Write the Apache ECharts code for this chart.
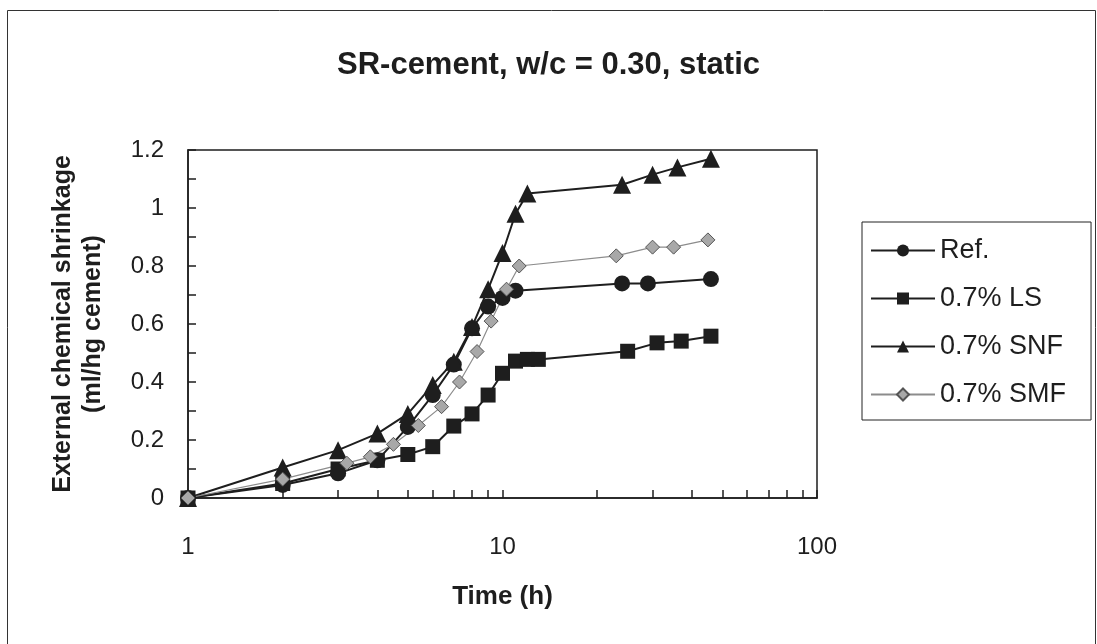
<!DOCTYPE html>
<html><head><meta charset="utf-8">
<script src="https://cdn.jsdelivr.net/npm/echarts@6/dist/echarts.min.js"></script>
<style>html,body{margin:0;padding:0;background:#fff}#c{width:1097px;height:644px}</style>
</head><body><div id="c"></div>
<script>
// ---- data (time in hours, shrinkage in ml/hg cement) ----
const refTime = [1, 2, 3, 4, 5, 6, 7, 8, 9, 10, 11, 24, 29, 46];
const refVal  = [0, 0.045, 0.085, 0.13, 0.245, 0.355, 0.46, 0.585, 0.66, 0.69, 0.715, 0.74, 0.74, 0.755];

const lsTime = [1, 2, 3, 4, 5, 6, 7, 8, 9, 10, 11, 12, 13, 25, 31, 37, 46];
const lsVal  = [0, 0.05, 0.10, 0.13, 0.15, 0.177, 0.248, 0.29, 0.355, 0.43, 0.472, 0.478, 0.478, 0.506, 0.535, 0.541, 0.558];

const snfTime = [1, 2, 3, 4, 5, 6, 7, 8, 9, 10, 11, 12, 24, 30, 36, 46];
const snfVal  = [0, 0.105, 0.165, 0.222, 0.29, 0.39, 0.47, 0.59, 0.72, 0.845, 0.98, 1.05, 1.08, 1.115, 1.14, 1.17];

const smfTime = [1, 2, 3.2, 3.8, 4.5, 5.4, 6.4, 7.3, 8.3, 9.2, 10.3, 11.3, 23, 30, 35, 45];
const smfVal  = [0, 0.065, 0.12, 0.142, 0.185, 0.25, 0.315, 0.40, 0.505, 0.61, 0.72, 0.80, 0.835, 0.865, 0.865, 0.89];

const seriesNames = ['Ref.', '0.7% LS', '0.7% SNF', '0.7% SMF'];
const xTickValues = [1, 2, 3, 4, 5, 6, 7, 8, 9, 10, 20, 30, 40, 50, 60, 70, 80, 90, 100];
const xLabelValues = [1, 10, 100];

const pairs = (t, v) => t.map((x, i) => [x, v[i]]);
const FONT = '"Liberation Sans", Arial, sans-serif';
const INK = '#1e1e1e';

const chart = echarts.init(document.getElementById('c'), null, {renderer: 'canvas'});
chart.setOption({
  backgroundColor: '#fff',
  animation: false,
  title: {
    text: 'SR-cement, w/c = 0.30, static',
    left: 'center', top: 45,
    textStyle: {fontFamily: FONT, fontSize: 31, fontWeight: 'bold', color: INK}
  },
  graphic: [{
    type: 'rect', left: 5, top: 8, silent: true,
    shape: {width: 1088, height: 660},
    style: {fill: 'none', stroke: '#333', lineWidth: 1}
  }],
  grid: {left: 188, right: 280, top: 150, bottom: 146, show: true, borderColor: INK, borderWidth: 1.5, backgroundColor: 'transparent'},
  legend: {
    orient: 'vertical', left: 862, top: 222,
    data: seriesNames,
    itemWidth: 64, itemHeight: 15, itemGap: 21,
    padding: [15, 25, 12, 8],
    borderColor: '#222', borderWidth: 1,
    textStyle: {fontFamily: FONT, fontSize: 27, color: INK, lineHeight: 26}
  },
  xAxis: {
    type: 'log', logBase: 10, min: 1, max: 100,
    name: 'Time (h)', nameLocation: 'middle', nameGap: 86,
    nameTextStyle: {fontFamily: FONT, fontSize: 26, fontWeight: 'bold', color: INK},
    axisLine: {lineStyle: {color: INK, width: 1.5}},
    axisTick: {inside: true, length: 8, lineStyle: {color: INK, width: 1.5}, customValues: xTickValues},
    axisLabel: {fontFamily: FONT, fontSize: 24, color: INK, margin: 37, customValues: xLabelValues},
    splitLine: {show: false}, minorTick: {show: false}
  },
  yAxis: {
    type: 'value', min: 0, max: 1.2, interval: 0.2,
    name: 'External chemical shrinkage\n(ml/hg cement)', nameLocation: 'middle', nameGap: 80,
    nameTextStyle: {fontFamily: FONT, fontSize: 25, fontWeight: 'bold', color: INK, lineHeight: 30},
    axisLine: {show: true, lineStyle: {color: INK, width: 1.5}},
    axisTick: {show: true, inside: true, length: 8, lineStyle: {color: INK, width: 1.5}},
    minorTick: {show: true, splitNumber: 2, length: 8, lineStyle: {color: INK, width: 1.5}},
    axisLabel: {fontFamily: FONT, fontSize: 24, color: INK, margin: 24},
    splitLine: {show: false}
  },
  series: [
    {name: seriesNames[0], type: 'line', data: pairs(refTime, refVal), symbol: 'circle', symbolSize: 16,
     lineStyle: {color: INK, width: 2}, itemStyle: {color: INK}},
    {name: seriesNames[1], type: 'line', data: pairs(lsTime, lsVal), symbol: 'rect', symbolSize: 15,
     lineStyle: {color: INK, width: 2}, itemStyle: {color: INK}},
    {name: seriesNames[2], type: 'line', data: pairs(snfTime, snfVal), symbol: 'triangle', symbolSize: 18,
     lineStyle: {color: INK, width: 2}, itemStyle: {color: INK}},
    {name: seriesNames[3], type: 'line', data: pairs(smfTime, smfVal), symbol: 'diamond', symbolSize: 14,
     lineStyle: {color: '#8c8c8c', width: 1.2}, itemStyle: {color: '#a8a8a8', borderColor: '#555', borderWidth: 1}}
  ]
});
</script></body></html>
